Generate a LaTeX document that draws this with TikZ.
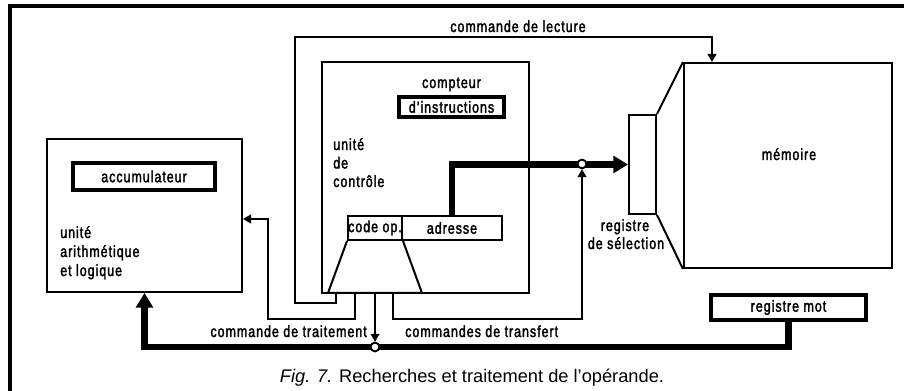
\documentclass[tikz,border=0pt]{standalone}
\usepackage{fontspec}
\setmainfont{Liberation Sans}
\newfontfamily\lblfont[FakeStretch=0.78, LetterSpace=6, FakeBold=2]{Liberation Sans}
\newfontfamily\capfont{Liberation Sans}
\usetikzlibrary{arrows.meta}
% lengths given in drawing units (0.75pt each)
\newcommand{\pxl}[1]{#1*0.75pt}
\tikzset{
  box/.style={draw, line width=1.5pt, inner sep=0pt, rectangle},
  regbox/.style={draw, line width=2.3pt, inner sep=0pt, rectangle},
  wire/.style={line width=1.5pt},
  bus/.style={line width=4.6pt},
  thinarrow/.style={-{Triangle[length=6pt,width=6.5pt]}},
  busarrow/.style={-{Triangle[length=11pt,width=12.5pt]}},
  junction/.style={circle, draw, fill=white, line width=1.3pt, minimum size=6.5pt, inner sep=0pt},
  lbl/.style={font=\lblfont\fontsize{12}{14}\selectfont, inner sep=0pt},
}
\begin{document}
\begin{tikzpicture}[x=0.75pt,y=-0.75pt]
\fill[white] (0,0) rectangle (904,391);
\useasboundingbox (0,0) rectangle (904,391);

% frame
\coordinate (fbl) at (10,395);
\coordinate (ftl) at (10,6);
\coordinate (ftr) at (910,6);
\draw[line width=2.3pt] (fbl) -- (ftl) -- (ftr);

% arithmetic and logic unit
\node[box, minimum width=\pxl{195}, minimum height=\pxl{153}] (alu) at (144.5,215.5) {};
\node[regbox, lbl, minimum width=\pxl{142}, minimum height=\pxl{27}] (acc) at (144,176.5) {accumulateur};
\node[lbl, anchor=base west] (alu1) at (60,238) {unité};
\node[lbl, anchor=base west] (alu2) at (60,257) {arithmétique};
\node[lbl, anchor=base west] (alu3) at (60,276) {et logique};

% control unit
\node[box, minimum width=\pxl{207}, minimum height=\pxl{231}] (cu) at (425.5,177.5) {};
\node[lbl, anchor=base] (cpt) at (451.5,88) {compteur};
\node[regbox, lbl, minimum width=\pxl{105}, minimum height=\pxl{20}] (ci) at (451.5,107) {d’instructions};
\node[lbl, anchor=base west] (cu1) at (333,150) {unité};
\node[lbl, anchor=base west] (cu2) at (333,168.5) {de};
\node[lbl, anchor=base west] (cu3) at (333,187) {contrôle};

% instruction register: operation code and address
\node[box, minimum width=\pxl{54}, minimum height=\pxl{24}] (op) at (375,228) {};
\node[lbl] (optxt) at (375,228) {code op.};
\node[box, lbl, minimum width=\pxl{100}, minimum height=\pxl{24}] (adr) at (452,228) {adresse};

% decoder
\coordinate (tb1) at (328,293);
\coordinate (tb2) at (422,293);
\draw[wire, line join=miter] (op.south west) -- (tb1) -- (tb2) -- (op.south east);

% memory and selection register
\node[box, minimum width=\pxl{208}, minimum height=\pxl{205}] (mem) at (788,165.5) {};
\node[lbl, anchor=base] (memtxt) at (789,160) {mémoire};
\node[box, minimum width=\pxl{27}, minimum height=\pxl{99}] (reg) at (642.5,164.5) {};
\draw[wire] (reg.north east) -- (mem.north west);
\draw[wire] (reg.south east) -- (mem.south west);
\node[lbl, anchor=base] (reg1) at (625,231) {registre};
\node[lbl, anchor=base] (reg2) at (626,249) {de sélection};

% word register
\node[regbox, lbl, minimum width=\pxl{155}, minimum height=\pxl{25}] (rm) at (788.5,307.5) {registre mot};

% control lines leaving the decoder
\coordinate (t1) at (336,293);
\coordinate (t2) at (355,293);
\coordinate (t3) at (375,293);
\coordinate (t4) at (393,293);
\coordinate (lp1) at (295,303);
\coordinate (rd) at (712,37);
\coordinate (w2) at (268,319);
\coordinate (w4) at (582,319);
\coordinate (bl) at (144.5,347);

\node[junction] (j1) at (375,347) {};
\node[junction] (j2) at (582,164) {};

% data buses
\draw[bus, busarrow] (adr.north) |- (reg.west);
\draw[bus, busarrow] (rm.south) |- (bl) -- (alu.south);

% read command
\draw[wire, thinarrow] (t1) |- (lp1) |- (rd) -- (rd |- mem.north);
% processing command
\draw[wire, thinarrow] (t2) |- (w2) |- ([yshift=-2.6pt]alu.east);
\draw[wire, thinarrow] (t3) -- (j1.north);
% transfer commands
\draw[wire, thinarrow] (t4) |- (w4) -- (j2.south);

\node[junction] at (j1) {};
\node[junction] at (j2) {};

% labels on the control lines
\node[lbl, anchor=base] (lec) at (518,32) {commande de lecture};
\node[lbl, anchor=base east] (trt) at (367,337) {commande de traitement};
\node[lbl, anchor=base west] (trf) at (405,337) {commandes de transfert};

% caption
\node[font=\capfont\fontsize{13.7}{16}\selectfont, inner sep=0pt, anchor=base] (cap) at (472,383)
  {\textit{Fig. 7.} Recherches et traitement de l’opérande.};
\end{tikzpicture}
\end{document}
